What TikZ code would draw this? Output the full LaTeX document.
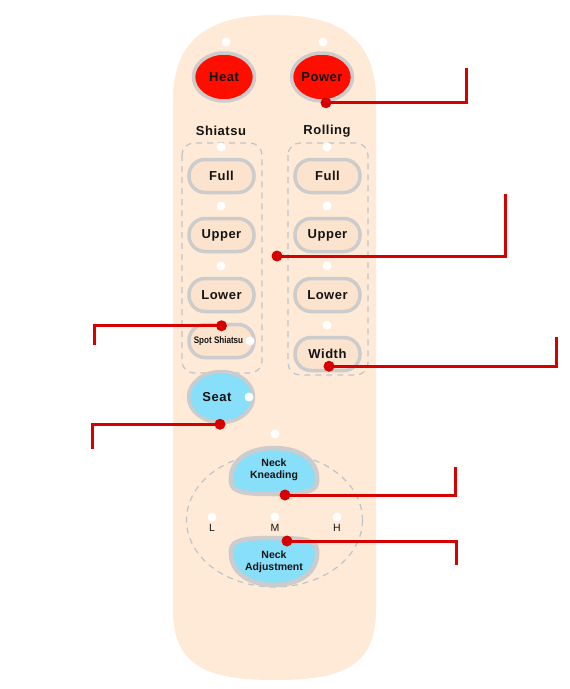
\documentclass[tikz,border=0pt]{standalone}
\usepackage{fontspec}
\setmainfont{Liberation Sans}
\newfontfamily\btnfont{Liberation Sans}[LetterSpace=4]
\usetikzlibrary{shapes.geometric, positioning}
\definecolor{bodypeach}{RGB}{254,234,214}
\definecolor{pillfill}{RGB}{252,227,205}
\definecolor{ringgray}{RGB}{204,204,204}
\definecolor{dashgray}{RGB}{190,196,204}
\definecolor{btnred}{RGB}{255,14,0}
\definecolor{btnblue}{RGB}{135,223,250}
\definecolor{callred}{RGB}{214,0,0}
\definecolor{ink}{RGB}{20,20,20}

\begin{document}
\begin{tikzpicture}[x=1pt, y=-1pt, text=ink,
    greyring/.style={draw=ringgray, line width=3.5pt},
    roundbtn/.style={ellipse, greyring, minimum width=61pt, minimum height=48pt, inner sep=0pt, font=\btnfont\bfseries\fontsize{13}{15}\selectfont},
    pill/.style={rectangle, rounded corners=16pt, greyring, fill=pillfill, minimum width=65pt, minimum height=33pt, inner sep=0pt, font=\btnfont\bfseries\fontsize{13}{15}\selectfont},
    heading/.style={font=\btnfont\bfseries\fontsize{13}{15}\selectfont},
    necklabel/.style={align=center, font=\bfseries\fontsize{10.5}{12}\selectfont},
    lmh/.style={font=\fontsize{10.5}{12}\selectfont},
    led/.style={circle, fill=white, minimum size=9pt, inner sep=0pt},
    dashbox/.style={draw=dashgray, dash pattern=on 6pt off 5pt, line width=1.2pt, rounded corners=12pt},
    callout/.style={draw=callred, line width=3pt},
    calldot/.style={circle, fill=callred, minimum size=11pt, inner sep=0pt}]
    \useasboundingbox (0,0) rectangle (570,689);

    % remote body
    \fill[bodypeach] (173,100) .. controls (173,35) and (215,15) .. (275,15)
        .. controls (335,15) and (376,35) .. (376,100) -- (376,610)
        .. controls (376,668) and (340,680) .. (275,680)
        .. controls (210,680) and (173,668) .. (173,610) -- cycle;

    % top row
    \node[roundbtn, fill=btnred] (heat) at (224,77) {Heat};
    \node[roundbtn, fill=btnred] (power) at (322,77) {Power};
    \node[led] (ledheat) at (226,42) {};
    \node[led] (ledpower) at (323,42) {};

    % massage groups
    \node[heading] (shiatsu) at (221,131) {Shiatsu};
    \node[heading] (rolling) at (327,131) {Rolling};
    \draw[dashbox] (182,143) rectangle (262,373);
    \draw[dashbox] (288,143) rectangle (368,375);

    \node[pill] (sfull) at (221.5,176) {Full};
    \node[pill] (supper) at (221.5,235) {Upper};
    \node[pill] (slower) at (221.5,295) {Lower};
    \node[pill, font=\bfseries\fontsize{9.5}{11}\selectfont] (spot) at (221.5,341) {\hspace*{-6pt}\scalebox{0.85}[1]{Spot Shiatsu}};
    \node[pill] (rfull) at (327.5,176) {Full};
    \node[pill] (rupper) at (327.5,235) {Upper};
    \node[pill] (rlower) at (327.5,295) {Lower};
    \node[pill] (width) at (327.5,354) {Width};

    \node[led] (ledsfull) at (221,147) {};
    \node[led] (ledsupper) at (221,206) {};
    \node[led] (ledslower) at (221,266) {};
    \node[led] (ledspot) at (250,341) {};
    \node[led] (ledrfull) at (327,147) {};
    \node[led] (ledrupper) at (327,206) {};
    \node[led] (ledrlower) at (327,266) {};
    \node[led] (ledwidth) at (327,325) {};

    % seat
    \node[roundbtn, fill=btnblue, minimum width=65pt, minimum height=51pt] (seat) at (221,397) {\hspace*{-8pt}Seat};
    \node[led] (ledseat) at (249,397) {};

    % neck section
    \node[led] (ledneck) at (275,434) {};
    \draw[dashbox] (274.5,520) ellipse [x radius=88, y radius=67];
    \filldraw[fill=btnblue, greyring, line width=4.5pt] (231,482) .. controls (229,458) and (252,448) .. (274,448)
        .. controls (297,448) and (319,458) .. (317,482)
        .. controls (316,492) and (305,494) .. (274,494)
        .. controls (243,494) and (232,492) .. (231,482) -- cycle;
    \filldraw[fill=btnblue, greyring, line width=4.5pt] (231,550) .. controls (232,540) and (243,538) .. (274,538)
        .. controls (305,538) and (316,540) .. (317,550)
        .. controls (319,574) and (297,585) .. (274,585)
        .. controls (252,585) and (229,574) .. (231,550) -- cycle;
    \node[necklabel] (knead) at (274,470) {Neck\\Kneading};
    \node[necklabel] (adjust) at (274,561.5) {Neck\\Adjustment};

    \node[led] (ledl) at (212,517) {};
    \node[led] (ledm) at (275,517) {};
    \node[led] (ledh) at (337,517) {};
    \node[lmh] (lowlbl) at (212,528) {L};
    \node[lmh] (midlbl) at (275,528) {M};
    \node[lmh] (highlbl) at (337,528) {H};

    % callouts
    \coordinate (powerpin) at ([xshift=4pt]power.south);
    \coordinate (grouppin) at (277,256);
    \coordinate (spotpin) at ([yshift=-3pt]spot.north);
    \coordinate (widthpin) at ([xshift=1.5pt, yshift=6pt]width.south);
    \coordinate (seatpin) at ([xshift=-1pt]seat.south);
    \coordinate (kneadpin) at (285,495);
    \coordinate (adjustpin) at (287,541);
    \coordinate (powerend) at (466,68);
    \coordinate (groupend) at (505,194);
    \coordinate (spotend) at (94,345);
    \coordinate (widthend) at (556,337);
    \coordinate (seatend) at (92,449);
    \coordinate (kneadend) at (455,467);
    \coordinate (adjustend) at (456,565);

    \draw[callout] (powerpin) -| (powerend);
    \draw[callout] (grouppin) -| (groupend);
    \draw[callout] (spotpin) -| (spotend);
    \draw[callout] (widthpin) -| (widthend);
    \draw[callout] (seatpin) -| (seatend);
    \draw[callout] (kneadpin) -| (kneadend);
    \draw[callout] (adjustpin) -| (adjustend);
    \foreach \p in {powerpin, grouppin, spotpin, widthpin, seatpin, kneadpin, adjustpin}
        \node[calldot] at (\p) {};
\end{tikzpicture}
\end{document}
